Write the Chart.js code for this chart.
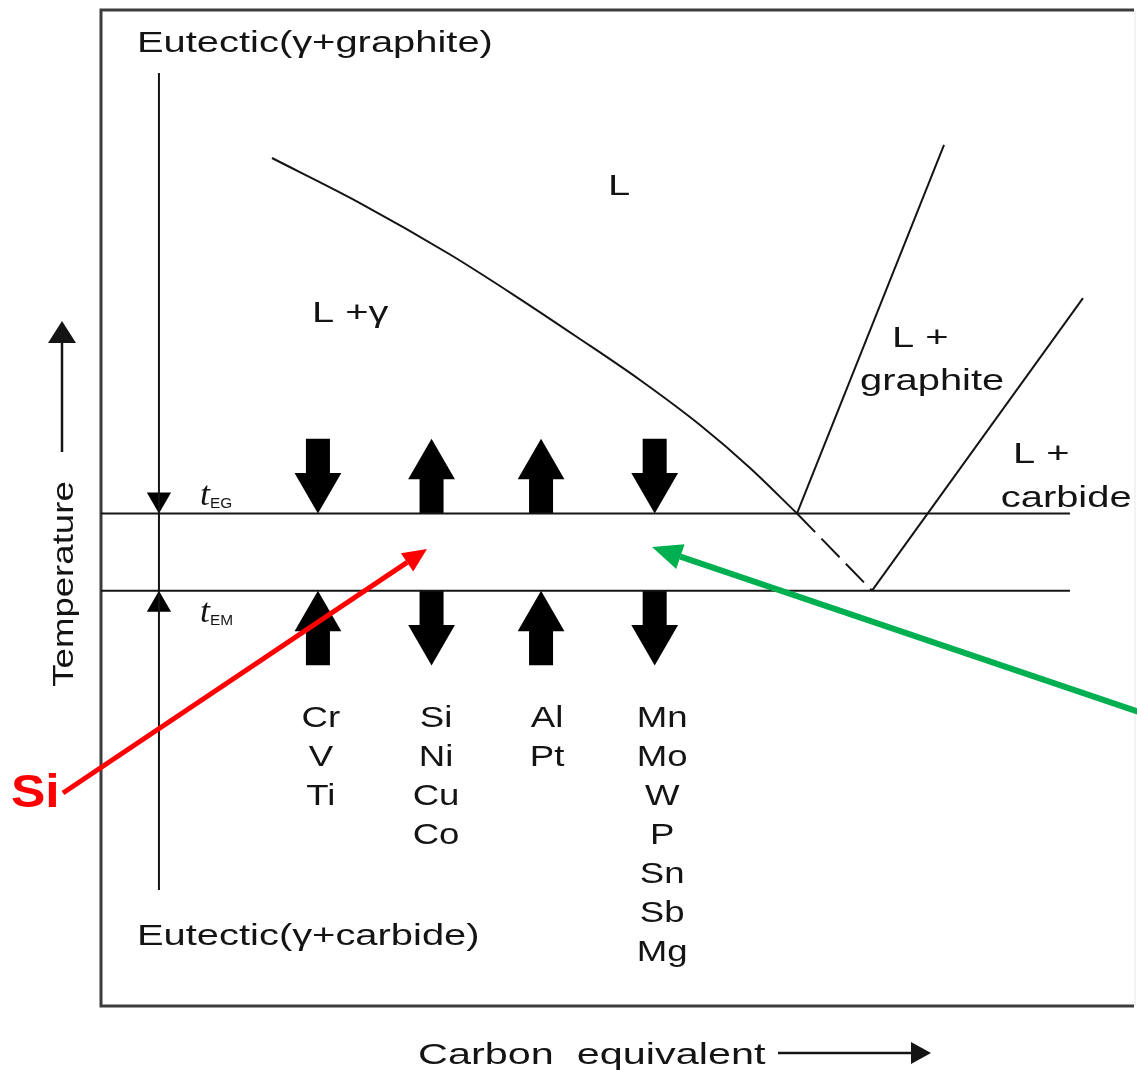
<!DOCTYPE html>
<html>
<head>
<meta charset="utf-8">
<title>Eutectic temperatures vs carbon equivalent</title>
<script src="https://cdn.jsdelivr.net/npm/chart.js@4.4.1/dist/chart.umd.min.js"></script>
<style>
    html, body { margin: 0; padding: 0; background: #fff; overflow: hidden; width: 1137px; height: 1070px; }
    /* canvas is a bit larger than the page: Chart.js reserves room for the big point heads */
    #wrap { width: 1164px; height: 1090px; position: absolute; left: 0; top: -20px; }
</style>
</head>
<body>
<div id="wrap"><canvas id="diagram"></canvas></div>
<script>
// schematic units: carbon equivalent 0-100 (x), temperature 0-100 (y)
const tEG = 49.45;   // stable eutectic (gamma + graphite)
const tEM = 41.7;    // metastable eutectic (gamma + carbide)

const liquidusX = [16.55, 25.07, 33.79, 40.27, 46.08, 52.18, 57.99, 62.83, 67.38];
const liquidusY = [85.14, 80.62, 75.45, 71.18, 67.17, 62.85, 58.33, 54.02, tEG];
const graphiteX = [67.38, 81.61];
const graphiteY = [tEG, 86.45];
const carbideX = [74.64, 95.06];
const carbideY = [tEM, 71.08];
const bandLineEnd = 93.8;

// element groups and their effect on tEG (upper) and tEM (lower): 1 = raises, -1 = lowers
const elementX = [21.0, 32.0, 42.6, 53.6];
const elementGroups = [
    ['Cr', 'V', 'Ti'],
    ['Si', 'Ni', 'Cu', 'Co'],
    ['Al', 'Pt'],
    ['Mn', 'Mo', 'W', 'P', 'Sn', 'Sb', 'Mg']
];
const upperDir = [-1, 1, 1, -1];
const lowerDir = [1, -1, 1, -1];

const ARROW_LEN = 7.5;   // y units
const HEAD_R = 27;       // px
const HEAD_U = 2.71;     // HEAD_R in y units
const SMALL_R = 14;
const SMALL_U = 1.41;

function pts(xs, ys) {
    return xs.map((x, i) => ({ x: x, y: ys[i] }));
}

// block arrows: shafts (with gaps) and triangle heads
const shafts = [];
const heads = [];
const headRot = [];
function addArrow(x, lo, hi, dir) {
    if (dir > 0) {
        shafts.push({ x: x, y: lo }, { x: x, y: hi - HEAD_U }, { x: x, y: null });
        heads.push({ x: x, y: hi - HEAD_U });
        headRot.push(0);
    } else {
        shafts.push({ x: x, y: lo + HEAD_U }, { x: x, y: hi }, { x: x, y: null });
        heads.push({ x: x, y: lo + HEAD_U });
        headRot.push(180);
    }
}
elementX.forEach((x, i) => {
    addArrow(x, tEG, tEG + ARROW_LEN, upperDir[i]);
    addArrow(x, tEM - ARROW_LEN, tEM, lowerDir[i]);
});

const axisX = 5.61;
const INK = '#141414';
const FONT = '"Liberation Sans", Arial, sans-serif';
const SX = 1.33; // the original lettering is horizontally stretched

function stretchText(ctx, text, x, y, size, align, opts) {
    opts = opts || {};
    ctx.save();
    ctx.translate(x, y);
    if (opts.rotate) ctx.rotate(opts.rotate);
    ctx.scale(opts.sx || SX, 1);
    ctx.font = (opts.style || '') + ' ' + size + 'px ' + (opts.family || FONT);
    ctx.fillStyle = opts.color || INK;
    ctx.textAlign = align || 'left';
    ctx.textBaseline = 'alphabetic';
    ctx.fillText(text, 0, 0);
    ctx.restore();
}

function arrowLine(ctx, x1, y1, x2, y2, color, width, headLen, headW) {
    const ang = Math.atan2(y2 - y1, x2 - x1);
    const bx = x2 - Math.cos(ang) * headLen;
    const by = y2 - Math.sin(ang) * headLen;
    ctx.save();
    ctx.strokeStyle = color;
    ctx.fillStyle = color;
    ctx.lineWidth = width;
    ctx.beginPath();
    ctx.moveTo(x1, y1);
    ctx.lineTo(bx, by);
    ctx.stroke();
    ctx.beginPath();
    ctx.moveTo(x2, y2);
    ctx.lineTo(bx + Math.sin(ang) * headW / 2, by - Math.cos(ang) * headW / 2);
    ctx.lineTo(bx - Math.sin(ang) * headW / 2, by + Math.cos(ang) * headW / 2);
    ctx.closePath();
    ctx.fill();
    ctx.restore();
}

const framePlugin = {
    id: 'frame',
    beforeDatasetsDraw(chart) {
        const { ctx, chartArea: a } = chart;
        ctx.save();
        ctx.strokeStyle = '#3c3c3c';
        ctx.lineWidth = 3;
        ctx.beginPath();
        ctx.moveTo(a.right, a.top);
        ctx.lineTo(a.left, a.top);
        ctx.lineTo(a.left, a.bottom);
        ctx.lineTo(a.right, a.bottom);
        ctx.stroke();
        ctx.strokeStyle = '#e6e6e6';
        ctx.lineWidth = 1;
        ctx.beginPath();
        ctx.moveTo(a.right + 1, a.top);
        ctx.lineTo(a.right + 1, a.bottom);
        ctx.stroke();
        ctx.restore();
    }
};

const labelPlugin = {
    id: 'labels',
    afterDatasetsDraw(chart) {
        const { ctx, chartArea: a } = chart;
        const xs = chart.scales.x, ys = chart.scales.y;
        const px = v => xs.getPixelForValue(v);
        const py = v => ys.getPixelForValue(v);

        stretchText(ctx, 'Eutectic(\u03b3+graphite)', px(3.48), py(95.78), 30);
        stretchText(ctx, 'Eutectic(\u03b3+carbide)', px(3.48), py(6.12), 30);
        stretchText(ctx, 'L', px(49.08), py(81.43), 30);
        stretchText(ctx, 'L +\u03b3', px(20.43), py(68.7), 30);
        stretchText(ctx, 'L +', px(76.57), py(66.16), 30);
        stretchText(ctx, 'graphite', px(73.48), py(61.85), 30);
        stretchText(ctx, 'L +', px(88.29), py(54.52), 30);
        stretchText(ctx, 'carbide', px(87.1), py(50.1), 30);

        // t_EG and t_EM
        const tFont = '"Liberation Serif", "Times New Roman", serif';
        [['EG', 50.3], ['EM', 38.55]].forEach(([sub, y]) => {
            stretchText(ctx, 't', px(9.58), py(y), 34, 'left', { style: 'italic', family: tFont, sx: 1.05 });
            stretchText(ctx, sub, px(9.58) + 10, py(y) + 3, 14, 'left', { sx: 1.1 });
        });

        // element columns
        elementGroups.forEach((group, i) => {
            group.forEach((el, j) => {
                stretchText(ctx, el, px(elementX[i]) + 3 + i * 1.5, py(28.01) + j * 39, 30, 'center', { sx: 1.22 });
            });
        });

        // axis titles with arrows (placed from the plot frame)
        stretchText(ctx, 'Temperature', a.left - 28, a.top + 574, 30, 'center', { rotate: -Math.PI / 2, sx: 1.22 });
        arrowLine(ctx, a.left - 39, a.top + 442, a.left - 39, a.top + 311, INK, 2.5, 22, 28);
        stretchText(ctx, 'Carbon  equivalent', a.left + 317, a.bottom + 58, 30, 'left', { sx: 1.38 });
        arrowLine(ctx, a.left + 677, a.bottom + 47, a.left + 830, a.bottom + 47, INK, 2.5, 20, 22);

        // highlights
        arrowLine(ctx, px(-3.68), py(21.39), px(31.56), py(45.88), '#ff0000', 5, 24, 22);
        stretchText(ctx, 'Si', a.left - 90, a.top + 797, 46, 'left', { style: 'bold', color: '#ff0000', sx: 1.12 });
        arrowLine(ctx, px(101.6), py(29.12), px(53.34), py(46.08), '#00b050', 6, 30, 26);
    }
};

const blackLine = {
    showLine: true,
    pointRadius: 0,
    borderColor: INK,
    borderWidth: 2,
    fill: false
};

new Chart(document.getElementById('diagram'), {
    type: 'scatter',
    data: {
        datasets: [
            Object.assign({ label: 'liquidus (gamma)', data: pts(liquidusX, liquidusY), cubicInterpolationMode: 'monotone' }, blackLine),
            Object.assign({ label: 'metastable extension', data: [{ x: liquidusX[liquidusX.length - 1], y: tEG }, { x: carbideX[0], y: tEM }], borderDash: [26, 9] }, blackLine),
            Object.assign({ label: 'liquidus (graphite)', data: pts(graphiteX, graphiteY) }, blackLine),
            Object.assign({ label: 'liquidus (carbide)', data: pts(carbideX, carbideY) }, blackLine),
            Object.assign({ label: 'tEG', data: [{ x: 0, y: tEG }, { x: bandLineEnd, y: tEG }] }, blackLine),
            Object.assign({ label: 'tEM', data: [{ x: 0, y: tEM }, { x: bandLineEnd, y: tEM }] }, blackLine),
            Object.assign({ label: 'range', data: [{ x: axisX, y: 93.67 }, { x: axisX, y: 11.65 }] }, blackLine),
            {
                label: 'range heads',
                data: [{ x: axisX, y: tEG + SMALL_U }, { x: axisX, y: tEM - SMALL_U }],
                pointStyle: 'triangle',
                pointRadius: SMALL_R,
                pointRotation: [180, 0],
                pointBackgroundColor: '#000',
                pointBorderWidth: 0,
                showLine: false
            },
            {
                label: 'shafts',
                data: shafts,
                showLine: true,
                spanGaps: false,
                pointRadius: 0,
                borderColor: '#000',
                borderWidth: 24,
                borderCapStyle: 'butt'
            },
            {
                label: 'heads',
                data: heads,
                pointStyle: 'triangle',
                pointRadius: HEAD_R,
                pointRotation: headRot,
                pointBackgroundColor: '#000',
                pointBorderWidth: 0,
                showLine: false
            }
        ]
    },
    options: {
        responsive: true,
        maintainAspectRatio: false,
        animation: false,
        layout: { padding: { left: 101, top: 30, right: 30, bottom: 64 } },
        scales: {
            x: { type: 'linear', min: 0, max: 100, display: false },
            y: { type: 'linear', min: 0, max: 100, display: false }
        },
        plugins: {
            legend: { display: false },
            tooltip: { enabled: false }
        },
        events: []
    },
    plugins: [framePlugin, labelPlugin]
});
</script>
</body>
</html>
